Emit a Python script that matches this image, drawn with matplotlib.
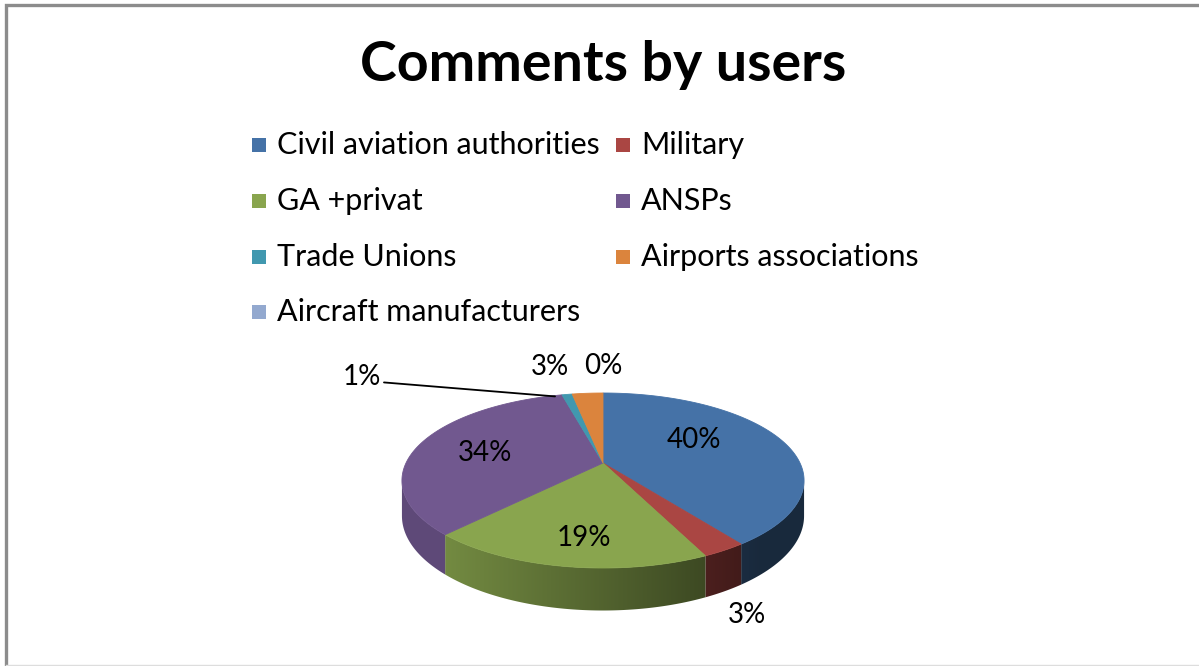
import numpy as np
import matplotlib
matplotlib.use('Agg')
import matplotlib.pyplot as plt
from matplotlib.patches import Polygon, Rectangle
from matplotlib.colors import to_rgb

plt.rcParams['font.family'] = ['Lato', 'DejaVu Sans']

# data
categories = ['Civil aviation authorities', 'Military', 'GA +privat', 'ANSPs',
              'Trade Unions', 'Airports associations', 'Aircraft manufacturers']
values = [40, 3, 19, 34, 1, 3, 0]
colors = ['#4572A7', '#AA4643', '#89A54E', '#71588F', '#4198AF', '#DB843D', '#93A9CF']

# layout of the fake 3d pie (pixel units)
cx, cy = 603, 463      # apex
A, B, p = 197, 84, 0.2  # half width, half height, perspective
D = 34                  # thickness

# label placement: radius along mid angle + pixel shift
lab_r = [0.5, 1.15, 0.75, 0.7, 1.0, 1.1, 1.1]
lab_shift = [(0, -10), (0, 48), (8, 2), (11, 4), (0, 0), (-36, -21), (0, -21)]


def proj(r, th):
    u = r * np.sin(th)
    v = r * np.cos(th)
    w = 1 + p * v
    return cx + A * u / w, cy - B * v / w, w


fig = plt.figure(figsize=(11.99, 6.66), dpi=100)
ax = fig.add_axes([0, 0, 1, 1])

# frame
ax.plot([6, 6, 1199], [666, 4.5, 4.5], color='#8c8c8c', lw=2.4, solid_joinstyle='miter', zorder=5)
ax.plot([6, 1199], [665, 665], color='#dddddd', lw=1, zorder=5)

tot = float(sum(values))
edges = np.concatenate([[0], np.cumsum(values)]) / tot * 2 * np.pi
t1 = np.arccos(-p)
t2 = 2 * np.pi - t1

# sides, shaded left (light) to right (dark)
gx = np.linspace(cx - A * 1.05, cx + A * 1.05, 400)
shade = np.clip(0.6 - 0.3 * (gx - cx) / A, 0.36, 0.84)
for i in range(len(values)):
    lo, hi = max(edges[i], t1), min(edges[i + 1], t2)
    if hi <= lo:
        continue
    th = np.linspace(lo, hi, max(int((hi - lo) * 120), 2))
    x, y, w = proj(1.0, th)
    yb = y + D / w
    pts = list(zip(x, y)) + list(zip(x[::-1], yb[::-1]))
    poly = Polygon(pts, closed=True, facecolor='none', edgecolor='none')
    ax.add_patch(poly)
    base = np.array(to_rgb(colors[i]))
    img = (shade[None, :, None] * base[None, None, :])
    im = ax.imshow(img, extent=(gx[0], gx[-1], cy + B * 1.3 + D * 1.3, cy - B * 0.3),
                   aspect='auto', interpolation='bilinear', zorder=1)
    im.set_clip_path(poly)

ax.set_xlim(0, 1199)
ax.set_ylim(666, 0)
ax.axis('off')

# top faces
for i in range(len(values)):
    if values[i] <= 0:
        continue
    th = np.linspace(edges[i], edges[i + 1], max(int((edges[i + 1] - edges[i]) * 80), 2))
    x, y, w = proj(1.0, th)
    pts = [(cx, cy)] + list(zip(x, y))
    ax.add_patch(Polygon(pts, closed=True, facecolor=colors[i], edgecolor=colors[i], lw=0.6, zorder=2))

# labels
for i in range(len(values)):
    mid = 0.5 * (edges[i] + edges[i + 1])
    txt = '%d%%' % round(values[i] / tot * 100)
    lx, ly, _ = proj(lab_r[i], mid)
    if categories[i] == 'Trade Unions':
        ax.annotate(txt, xy=(lx - 12, ly + 2), xytext=(362, 377), fontsize=20,
                    ha='center', va='center', zorder=4,
                    arrowprops=dict(arrowstyle='-', color='black', lw=1.3,
                                    relpos=(1.0, 0.3), shrinkA=0, shrinkB=0))
        continue
    ax.text(lx + lab_shift[i][0], ly + lab_shift[i][1], txt, fontsize=20,
            ha='center', va='center', zorder=4)

# title
ax.text(603, 65, 'Comments by users', ha='center', va='center', fontsize=40, weight='bold')

# legend (two columns, row by row)
rows_y = [145, 201, 257, 312]
sq_x = [252, 616]
tx_x = [277, 641]
for i, name in enumerate(categories):
    r, c = divmod(i, 2)
    ax.add_patch(Rectangle((sq_x[c], rows_y[r] - 7), 14, 14, facecolor=colors[i], edgecolor='none'))
    ax.text(tx_x[c], rows_y[r], name, fontsize=22, ha='left', va='center')

fig.savefig('out.png', dpi=100)
